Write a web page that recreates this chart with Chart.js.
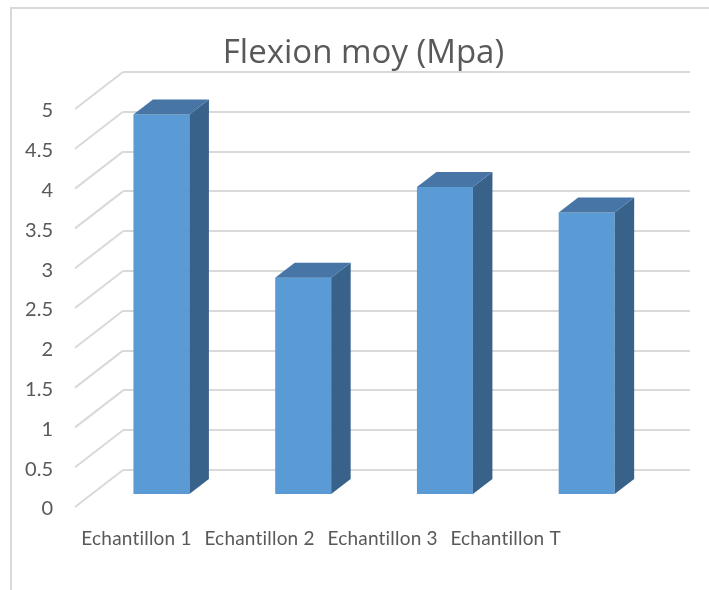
<!DOCTYPE html>
<html>
<head>
<meta charset="utf-8">
<script src="https://cdn.jsdelivr.net/npm/chart.js@4.4.1/dist/chart.umd.min.js"></script>
<style>
  html, body { margin: 0; padding: 0; background: #ffffff; }
  #wrap { width: 709px; height: 590px; position: relative; }
</style>
</head>
<body>
<div id="wrap"><canvas id="chart" width="709" height="590"></canvas></div>
<script>
// Data
const categories = ['Echantillon 1', 'Echantillon 2', 'Echantillon 3', 'Echantillon T'];
const flexionValues = [4.78, 2.73, 3.87, 3.55];
const yTickValues = [0, 0.5, 1, 1.5, 2, 2.5, 3, 3.5, 4, 4.5, 5];
const chartTitle = 'Flexion moy (Mpa)';

// Look
const TEXT_COLOR = '#595959';
const GRID_COLOR = '#d9d9d9';
const FRONT_COLOR = '#5b9bd5';
const TOP_COLOR = '#4675a6';
const SIDE_COLOR = '#38628a';
const AXIS_FONT = '20px Lato';
const CAT_FONT = '19px Lato';
const TITLE_FONT = '33px "Open Sans"';

// Oblique floor: vector from back wall to the front edge
const FLOOR_DX = -48;
const FLOOR_DY = 37;
// Depth range occupied by the bars (0 = back wall, 1 = front edge)
const BAR_FRONT = 0.676;
const BAR_BACK = 0.27;
// Category labels are spread over this share of the floor width
const LABEL_SPREAD = 0.868;

const threeD = {
  id: 'threeD',
  beforeDraw(chart) {
    const ctx = chart.ctx;
    ctx.save();
    // frame (top and left edges)
    ctx.strokeStyle = GRID_COLOR;
    ctx.lineWidth = 2;
    ctx.beginPath();
    ctx.moveTo(11, 590);
    ctx.lineTo(11, 8);
    ctx.lineTo(709, 8);
    ctx.stroke();
    ctx.restore();
  },
  beforeDatasetsDraw(chart) {
    const ctx = chart.ctx;
    const y = chart.scales.y;
    const left = chart.chartArea.left;
    ctx.save();
    // side-wall gridlines running from the back wall to the front edge
    ctx.strokeStyle = GRID_COLOR;
    ctx.lineWidth = 2;
    y.ticks.forEach(t => {
      const py = y.getPixelForValue(t.value);
      ctx.beginPath();
      ctx.moveTo(left, py);
      ctx.lineTo(left + FLOOR_DX, py + FLOOR_DY);
      ctx.stroke();
    });
    ctx.restore();
    // move the bar fronts onto their depth plane
    ctx.save();
    ctx.translate(FLOOR_DX * BAR_FRONT, FLOOR_DY * BAR_FRONT);
  },
  afterDatasetsDraw(chart) {
    const ctx = chart.ctx;
    ctx.restore();
    const fx = FLOOR_DX * BAR_FRONT, fy = FLOOR_DY * BAR_FRONT;
    const ddx = -FLOOR_DX * (BAR_FRONT - BAR_BACK);
    const ddy = -FLOOR_DY * (BAR_FRONT - BAR_BACK);
    const meta = chart.getDatasetMeta(0);
    ctx.save();
    meta.data.forEach(bar => {
      const p = bar.getProps(['x', 'y', 'base', 'width'], true);
      const l = p.x - p.width / 2 + fx;
      const r = p.x + p.width / 2 + fx;
      const t = p.y + fy;
      const b = p.base + fy;
      // side face
      ctx.fillStyle = SIDE_COLOR;
      ctx.beginPath();
      ctx.moveTo(r, t);
      ctx.lineTo(r + ddx, t + ddy);
      ctx.lineTo(r + ddx, b + ddy);
      ctx.lineTo(r, b);
      ctx.closePath();
      ctx.fill();
      // top face
      ctx.fillStyle = TOP_COLOR;
      ctx.beginPath();
      ctx.moveTo(l, t);
      ctx.lineTo(l + ddx, t + ddy);
      ctx.lineTo(r + ddx, t + ddy);
      ctx.lineTo(r, t);
      ctx.closePath();
      ctx.fill();
    });
    ctx.restore();
  },
  afterDraw(chart) {
    const ctx = chart.ctx;
    const y = chart.scales.y;
    const x = chart.scales.x;
    const area = chart.chartArea;
    ctx.save();
    ctx.fillStyle = TEXT_COLOR;
    // value labels on the front edge
    ctx.font = AXIS_FONT;
    ctx.textAlign = 'right';
    ctx.textBaseline = 'middle';
    y.ticks.forEach(t => {
      const py = y.getPixelForValue(t.value) + FLOOR_DY;
      ctx.fillText(t.label, area.left + FLOOR_DX - 22, py + 2);
    });
    // category labels under the floor
    ctx.font = CAT_FONT;
    if ('letterSpacing' in ctx) ctx.letterSpacing = '0.2px';
    ctx.textAlign = 'center';
    ctx.textBaseline = 'alphabetic';
    const step = (x.right - x.left) * LABEL_SPREAD / categories.length;
    const baseY = y.getPixelForValue(0) + FLOOR_DY + 38;
    categories.forEach((c, i) => {
      ctx.fillText(c, x.left + FLOOR_DX + (i + 0.5) * step, baseY);
    });
    if ('letterSpacing' in ctx) ctx.letterSpacing = '0px';
    // title
    ctx.font = TITLE_FONT;
    ctx.fillText(chartTitle, 363.5, 63);
    ctx.restore();
  }
};

new Chart(document.getElementById('chart'), {
  type: 'bar',
  data: {
    labels: categories,
    datasets: [{
      label: chartTitle,
      data: flexionValues,
      backgroundColor: FRONT_COLOR,
      borderWidth: 0,
      categoryPercentage: 1,
      barPercentage: 0.395,
      clip: false
    }]
  },
  options: {
    responsive: false,
    devicePixelRatio: 1,
    animation: false,
    layout: { padding: { left: 123, right: 19, top: 72, bottom: 120 } },
    plugins: {
      legend: { display: false },
      title: { display: false },
      tooltip: { enabled: false }
    },
    scales: {
      x: { display: false },
      y: {
        min: 0,
        max: 5,
        afterBuildTicks(scale) {
          scale.ticks = yTickValues.map(v => ({ value: v }));
        },
        ticks: { display: false, callback: v => String(v) },
        grid: { color: GRID_COLOR, lineWidth: 2, drawTicks: false },
        border: { display: false },
        afterFit(scale) { scale.width = 0; }
      }
    }
  },
  plugins: [threeD]
});
</script>
</body>
</html>
